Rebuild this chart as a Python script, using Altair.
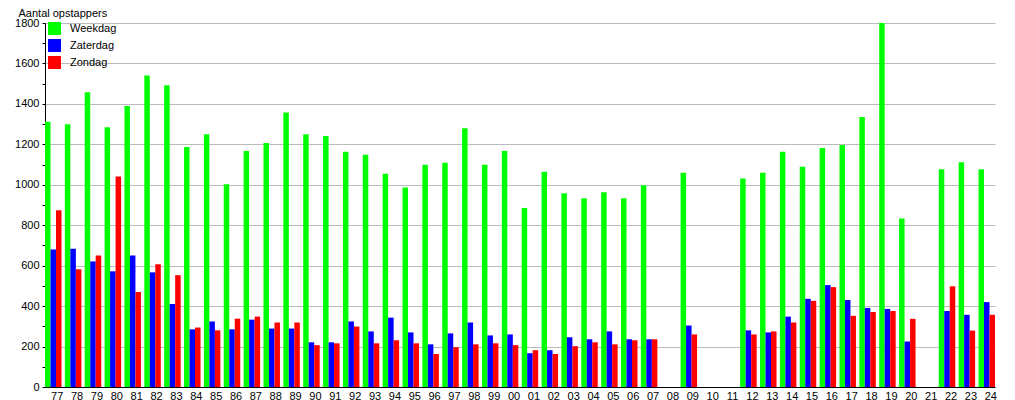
import altair as alt
import pandas as pd

years = ["77","78","79","80","81","82","83","84","85","86","87","88","89","90","91","92",
         "93","94","95","96","97","98","99","00","01","02","03","04","05","06","07","08",
         "09","10","11","12","13","14","15","16","17","18","19","20","21","22","23","24"]

weekdag = [1312,1299,1458,1285,1390,1541,1492,1187,1250,1002,1167,1207,1358,1250,1241,1163,
           1148,1055,987,1099,1109,1280,1099,1167,885,1065,958,933,963,933,998,None,
           1060,None,None,1031,1060,1163,1089,1182,1197,1335,1800,833,None,1077,1111,1077]

zaterdag = [680,684,621,572,650,567,411,285,324,285,333,289,289,221,221,324,
            275,343,270,211,265,319,255,260,167,182,246,236,275,236,236,None,
            304,None,None,280,270,348,436,504,430,391,386,225,None,376,357,420]

zondag = [874,582,650,1041,470,607,553,294,280,338,348,319,319,207,216,299,
          216,231,216,163,197,211,216,207,182,163,202,221,211,231,236,None,
          260,None,None,260,275,319,426,494,352,371,376,337,None,498,279,357]

series = ["Weekdag", "Zaterdag", "Zondag"]
colors = ["#00FF00", "#0000FF", "#FF0000"]

rows = []
for name, vals in zip(series, [weekdag, zaterdag, zondag]):
    for y, v in zip(years, vals):
        rows.append({"jaar": y, "soort": name, "aantal": v})
df = pd.DataFrame(rows)

font = "Liberation Sans"

chart = alt.Chart(df).mark_bar().encode(
    x=alt.X("jaar:N", sort=years,
            scale=alt.Scale(domain=years, paddingInner=0.17, paddingOuter=0.0),
            axis=alt.Axis(title=None, labelAngle=0, ticks=False, labelPadding=3,
                          labelOffset=4, domainColor="black", labelFont=font,
                          labelFontSize=11, labelColor="black", grid=False)),
    xOffset=alt.XOffset("soort:N", sort=series, scale=alt.Scale(domain=series, paddingInner=0, paddingOuter=0)),
    y=alt.Y("aantal:Q",
            scale=alt.Scale(domain=[0, 1800], nice=False),
            axis=alt.Axis(title="Aantal opstappers", titleAngle=0, titleAlign="left",
                          titleBaseline="alphabetic", titleX=-27, titleY=-7,
                          titleFont=font, titleFontSize=11, titleFontWeight="normal",
                          titleColor="black",
                          values=list(range(0, 1801, 100)), format="d",
                          labelExpr="datum.value % 200 == 0 ? datum.label : ''",
                          gridOpacity=alt.condition("datum.value % 200 == 0", alt.value(1), alt.value(0)),
                          gridColor="#BBBBBB", gridWidth=1,
                          tickSize=3, tickColor="black", domainColor="black",
                          labelFont=font, labelFontSize=11, labelColor="black",
                          labelPadding=3)),
    color=alt.Color("soort:N", sort=series,
                    scale=alt.Scale(domain=series, range=colors),
                    legend=alt.Legend(title=None, orient="none", legendX=3, legendY=-1,
                                      symbolType="square", symbolSize=169,
                                      symbolStrokeWidth=0, symbolOpacity=1,
                                      labelFont=font, labelFontSize=11, labelColor="black",
                                      labelOffset=9, rowPadding=4)),
).properties(
    width=950, height=364,
    autosize=alt.AutoSizeParams(type="none"),
    padding={"left": 37, "top": 15, "right": 12, "bottom": 15},
).configure_view(stroke=None).configure_axis(labelFontWeight="normal")

chart.save("out.html", embed_options={"renderer": "svg", "actions": False})
